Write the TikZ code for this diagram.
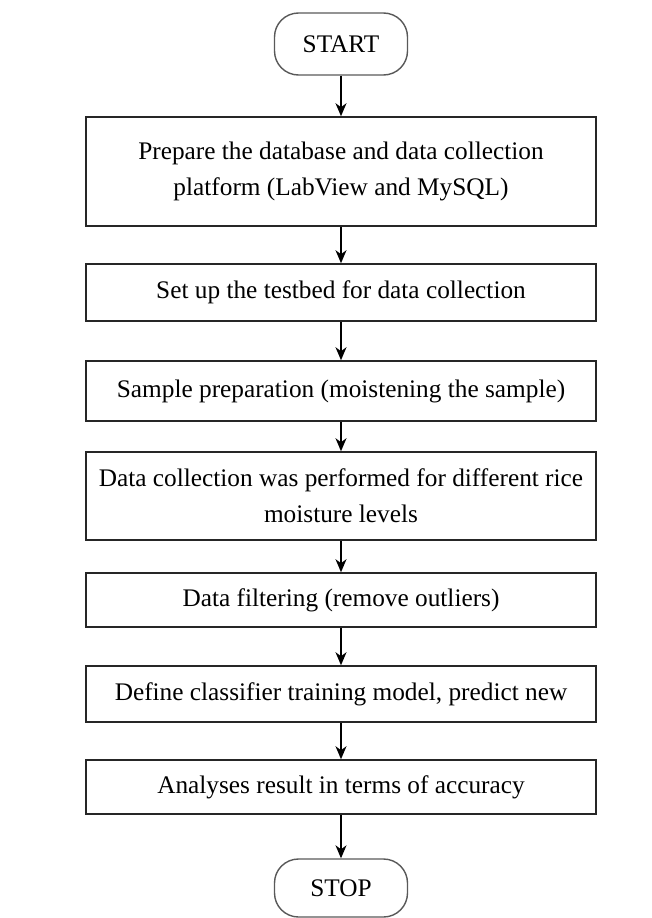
\documentclass[tikz,border=0pt]{standalone}
\usepackage{fontspec}
\setmainfont{Liberation Serif}
\usetikzlibrary{arrows.meta}
\tikzset{
  stepbox/.style={draw=black!85,line width=1.6pt,minimum width=510pt,align=center,inner sep=0pt},
  term/.style={draw=black!65,line width=1.4pt,rounded corners=24pt,minimum width=133pt,minimum height=62pt,inner sep=0pt},
  flow/.style={-{Stealth[length=13pt,width=11pt,inset=4pt]},line width=1.3pt}
}
\begin{document}
\begin{tikzpicture}[x=1pt,y=-1pt,font=\fontsize{25.3}{36}\selectfont]
\useasboundingbox (0,0) rectangle (652,918);

\node[term] (start) at (341,44) {START};
\node[stepbox,minimum height=109pt] (prep) at (341,171.5)
  {Prepare the database and data collection\\platform (LabView and MySQL)};
\node[stepbox,minimum height=57pt] (testbed) at (341,292.5)
  {Set up the testbed for data collection};
\node[stepbox,minimum height=60pt] (sample) at (341,391)
  {Sample preparation (moistening the sample)};
\node[stepbox,minimum height=88pt] (collect) at (341,496)
  {Data collection was performed for different rice\\moisture levels};
\node[stepbox,minimum height=54pt] (filter) at (341,600)
  {Data filtering (remove outliers)};
\node[stepbox,minimum height=56pt] (model) at (341,694)
  {Define classifier training model, predict new};
\node[stepbox,minimum height=54pt] (result) at (341,787)
  {Analyses result in terms of accuracy};
\node[term,minimum height=58pt] (stop) at (341,888) {STOP};

\draw[flow] (start) -- (prep);
\draw[flow] (prep) -- (testbed);
\draw[flow] (testbed) -- (sample);
\draw[flow] (sample) -- (collect);
\draw[flow] (collect) -- (filter);
\draw[flow] (filter) -- (model);
\draw[flow] (model) -- (result);
\draw[flow] (result) -- (stop);
\end{tikzpicture}
\end{document}
